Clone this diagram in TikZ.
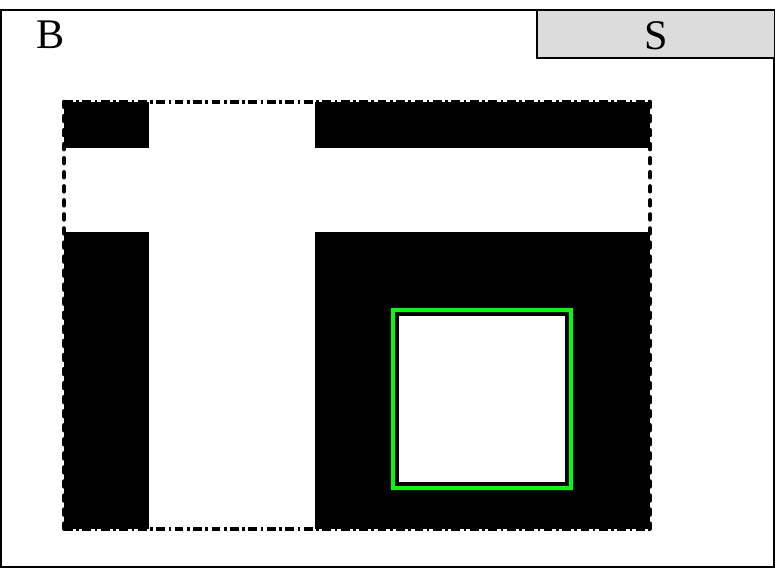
\documentclass[tikz,border=0pt]{standalone}
\usepackage{fontspec}
\setmainfont{Liberation Serif}
\usepackage{tikz}
\definecolor{cG}{RGB}{0,255,0}
\definecolor{cS}{RGB}{220,220,220}
\tikzset{
    lbl/.style={inner sep=0pt, font=\fontsize{24}{28}\selectfont},
    edgeh/.style={line width=2pt, dash pattern=on 5pt off 2pt on 1.5pt off 2pt},
    edgev/.style={line width=2.6pt, line cap=round, dash pattern=on 2.8pt off 5.2pt}
}

\begin{document}
\begin{tikzpicture}[x=0.02cm, y=-0.02cm]
    \useasboundingbox (0,0) rectangle (775,569);

    % Outer frame
    \draw[line width=0.7pt] (1,10) rectangle (774,567);
    \node[lbl] (labB) at (51,35) {B};

    % S tab
    \draw[line width=0.7pt, fill=cS] (537,10) rectangle (775,58);
    \node[lbl] (labS) at (656,36) {S};

    % Black field with white cross
    \fill[black] (64,102) rectangle (650,529);
    \fill[white] (149,102) rectangle (315,529);
    \fill[white] (64,148) rectangle (650,232);

    % Window with green border
    \fill[white] (399,316) rectangle (565,482);
    \draw[cG, line width=2.3pt] (393,310) rectangle (571,488);

    % Dashed outline
    \draw[edgeh] (64,102) -- (650,102);
    \draw[edgeh] (64,529) -- (650,529);
    \draw[edgev] (64,102) -- (64,529);
    \draw[edgev] (650,102) -- (650,529);
\end{tikzpicture}
\end{document}
